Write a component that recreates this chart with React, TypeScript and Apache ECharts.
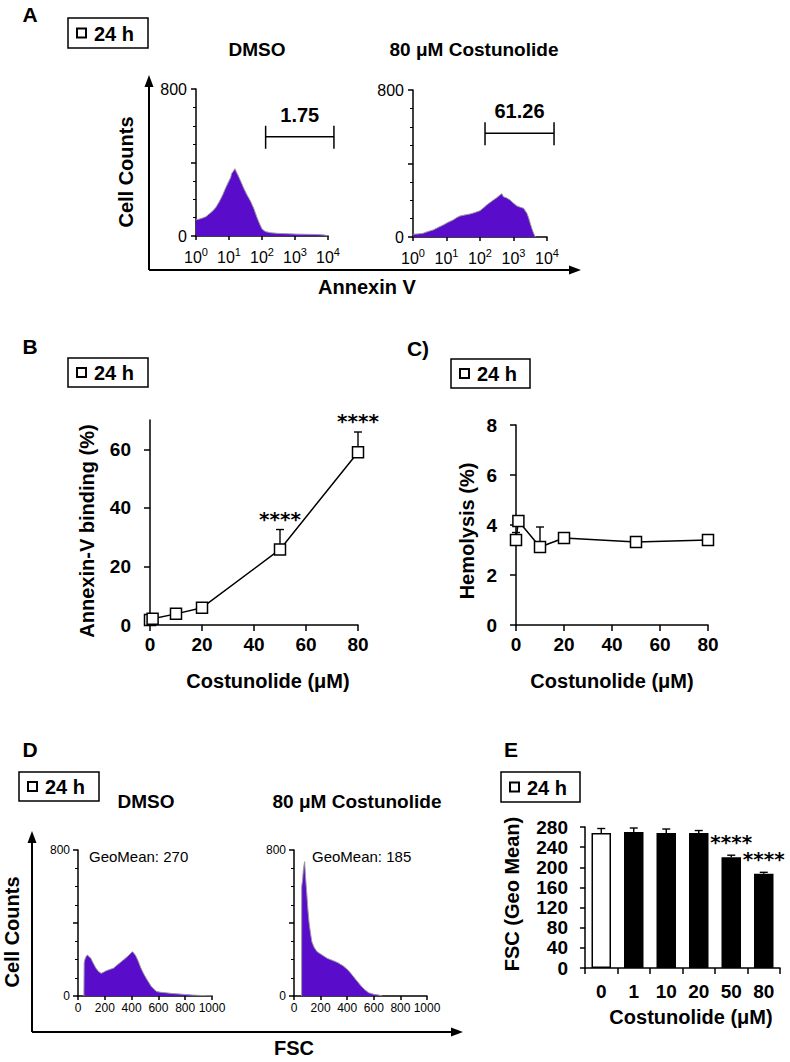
import React, { useEffect, useRef } from 'react';
import * as echarts from 'echarts';

const FONT = '"Liberation Sans", Arial, Helvetica, sans-serif';
const STAR_FONT = '"DejaVu Sans", sans-serif';
const PURPLE = '#5a0ccb';
const EDGE = '#9a9a9a';
const timeLabel = '24 h';

// ---------- Panel A: Annexin V histograms (x = log10 decades) ----------
const decadeBase = '10';
const decadeExponents = ['0', '1', '2', '3', '4'];
const annexDmso: [number, number][] = [
  [0, 88], [0.1, 92], [0.2, 98], [0.3, 105], [0.4, 120], [0.5, 135], [0.6, 155], [0.7, 185],
  [0.8, 220], [0.9, 262], [1.0, 300], [1.05, 318], [1.08, 340], [1.13, 352], [1.18, 366], [1.22, 350],
  [1.28, 328], [1.35, 300], [1.45, 258], [1.55, 222], [1.65, 190], [1.75, 150], [1.85, 100], [1.93, 65],
  [2.0, 38], [2.1, 24], [2.25, 18], [2.5, 14], [2.8, 12], [3.1, 10], [3.4, 9], [3.7, 8], [3.9, 5], [4.0, 0],
];
const annexCost: [number, number][] = [
  [0, 15], [0.15, 17], [0.3, 20], [0.45, 30], [0.6, 38], [0.75, 52], [0.9, 65], [1.05, 80], [1.2, 93],
  [1.3, 105], [1.4, 114], [1.55, 120], [1.7, 125], [1.85, 133], [2.0, 143], [2.1, 158], [2.2, 174],
  [2.3, 188], [2.4, 201], [2.5, 214], [2.6, 229], [2.65, 236], [2.7, 219], [2.8, 212], [2.9, 201],
  [3.0, 184], [3.1, 169], [3.2, 162], [3.3, 156], [3.4, 129], [3.45, 105], [3.5, 74], [3.55, 45],
  [3.6, 20], [3.65, 0],
];
const gateDmso = [2.11, 4.18, 540];
const gateCost = [2.15, 4.21, 564];
const gateDmsoLabel = '1.75';
const gateCostLabel = '61.26';

// ---------- Panel B: Annexin-V binding ----------
const conc = [0, 1, 10, 20, 50, 80];
const annexinPct = [1.7, 2.1, 3.8, 5.9, 25.8, 59.0];
const annexinErr = [0.5, 0.5, 0.8, 1.2, 6.8, 6.9];
const annexinSig = [false, false, false, false, true, true];

// ---------- Panel C: Hemolysis ----------
const hemolysis = [3.4, 4.16, 3.12, 3.48, 3.32, 3.4];
const hemolysisErr = [0.3, 0.1, 0.8, 0.1, 0.1, 0.1];

// ---------- Panel D: FSC histograms ----------
const fscDmso: [number, number][] = [
  [44, 0], [46, 180], [50, 197], [60, 215], [70, 225], [80, 218], [96, 206], [115, 178], [134, 152],
  [155, 133], [173, 124], [190, 130], [212, 139], [240, 146], [264, 152], [290, 168], [315, 183],
  [340, 198], [367, 215], [385, 228], [406, 243], [420, 232], [432, 219], [450, 190], [470, 152],
  [490, 122], [509, 97], [530, 72], [548, 51], [570, 35], [587, 24], [620, 20], [651, 18], [700, 14],
  [755, 11], [800, 8], [858, 5], [910, 3], [961, 2], [1000, 0],
];
const fscCost: [number, number][] = [
  [57, 0], [58, 600], [65, 640], [70, 690], [76, 720], [80, 736], [86, 660], [96, 562], [105, 470],
  [114, 398], [125, 340], [134, 298], [150, 268], [173, 243], [200, 230], [225, 218], [251, 206],
  [290, 195], [328, 183], [370, 165], [406, 142], [430, 122], [457, 97], [485, 72], [509, 51],
  [535, 33], [561, 18], [600, 9], [638, 5], [664, 0],
];
const geoMeanDmso = 'GeoMean: 270';
const geoMeanCost = 'GeoMean: 185';

// ---------- Panel E: FSC geo mean bars ----------
const fscCats = ['0', '1', '10', '20', '50', '80'];
const fscGeoMean = [268, 270, 268, 268, 220, 187];
const fscErr = [9, 8, 8, 5, 4, 3];
const fscSig = [false, false, false, false, true, true];
const sigText = '****';

const BLACK = '#000';
const axisLine = { show: true, onZero: false, lineStyle: { color: BLACK, width: 1.5 } };
const tick = (len: number) => ({ show: true, length: len, lineStyle: { color: BLACK, width: 1.5 } });

function boldLabel(size: number, margin: number, extra: any = {}) {
  return { color: BLACK, fontFamily: FONT, fontWeight: 'bold', fontSize: size, margin, showMaxLabel: true, showMinLabel: true, hideOverlap: false, ...extra };
}
function plainLabel(size: number, margin: number, extra: any = {}) {
  return { color: BLACK, fontFamily: FONT, fontWeight: 'normal', fontSize: size, margin, showMaxLabel: true, showMinLabel: true, hideOverlap: false, ...extra };
}

function txt(text: string, x: number, y: number, size: number, opts: any = {}) {
  const align = opts.align || 'center';
  return {
    type: 'text', x, y, rotation: opts.rot || 0, z: 10,
    style: {
      text, fontSize: size, fontWeight: opts.weight || 'bold', fontFamily: opts.family || FONT, fill: BLACK,
      textAlign: align, textVerticalAlign: 'middle', align, verticalAlign: 'middle',
    },
  };
}

function timeBox(x: number, y: number, w: number, h: number) {
  return {
    type: 'group', x, y, z: 10,
    children: [
      { type: 'rect', shape: { x: 0, y: 0, width: w, height: h }, style: { fill: '#fff', stroke: BLACK, lineWidth: 1.5 } },
      { type: 'rect', shape: { x: 9, y: h / 2 - 4.5, width: 9, height: 9 }, style: { fill: '#fff', stroke: BLACK, lineWidth: 2 } },
      txt(timeLabel, 26, h / 2 + 0.5, 20, { align: 'left' }),
    ],
  };
}

function arrowAxes(ox: number, oy: number, topY: number, rightX: number) {
  const st = { stroke: BLACK, lineWidth: 2 };
  return [
    { type: 'line', shape: { x1: ox, y1: oy, x2: ox, y2: topY + 8 }, style: st },
    { type: 'line', shape: { x1: ox, y1: oy, x2: rightX - 8, y2: oy }, style: st },
    { type: 'polygon', shape: { points: [[ox, topY], [ox - 4.5, topY + 12], [ox + 4.5, topY + 12]] }, style: { fill: BLACK } },
    { type: 'polygon', shape: { points: [[rightX, oy], [rightX - 12, oy - 4.5], [rightX - 12, oy + 4.5]] }, style: { fill: BLACK } },
  ];
}

function histSeries(idx: number, data: [number, number][]) {
  return {
    type: 'line', xAxisIndex: idx, yAxisIndex: idx, data, symbol: 'none', silent: true,
    lineStyle: { color: EDGE, width: 1 }, areaStyle: { color: PURPLE, opacity: 1 }, z: 2,
  };
}

function textEl(text: string, x: number, y: number, size: number, weight: string, family: string, va: string) {
  return {
    type: 'text', x, y,
    style: { text, fontSize: size, fontWeight: weight, fontFamily: family, fill: BLACK, align: 'center', verticalAlign: va, textAlign: 'center', textVerticalAlign: va },
  };
}

function gateSeries(idx: number, g: number[], label: string) {
  return {
    type: 'custom', xAxisIndex: idx, yAxisIndex: idx, clip: false, silent: true, z: 5,
    data: [g],
    renderItem: (_p: any, api: any) => {
      const a = api.coord([api.value(0), api.value(2)]);
      const b = api.coord([api.value(1), api.value(2)]);
      const st = { stroke: BLACK, lineWidth: 1.5 };
      return {
        type: 'group',
        children: [
          { type: 'line', shape: { x1: a[0], y1: a[1], x2: b[0], y2: b[1] }, style: st },
          { type: 'line', shape: { x1: a[0], y1: a[1] - 11, x2: a[0], y2: a[1] + 12 }, style: st },
          { type: 'line', shape: { x1: b[0], y1: b[1] - 11, x2: b[0], y2: b[1] + 12 }, style: st },
          textEl(label, (a[0] + b[0]) / 2, a[1] - 22, 20, 'bold', FONT, 'middle'),
        ],
      };
    },
  };
}

function errorSeries(idx: number, xs: number[], ys: number[], errs: number[], capHalf: number) {
  return {
    type: 'custom', xAxisIndex: idx, yAxisIndex: idx, clip: false, silent: true, z: 3,
    data: xs.map((x, i) => [x, ys[i], errs[i]]),
    renderItem: (_p: any, api: any) => {
      const x = api.value(0), y = api.value(1), e = api.value(2);
      const a = api.coord([x, y]);
      const b = api.coord([x, y + e]);
      const st = { stroke: BLACK, lineWidth: 1.4 };
      return {
        type: 'group',
        children: [
          { type: 'line', shape: { x1: a[0], y1: a[1], x2: b[0], y2: b[1] }, style: st },
          { type: 'line', shape: { x1: b[0] - capHalf, y1: b[1], x2: b[0] + capHalf, y2: b[1] }, style: st },
        ],
      };
    },
  };
}

function starSeries(idx: number, pts: number[][], gap: number) {
  return {
    type: 'custom', xAxisIndex: idx, yAxisIndex: idx, clip: false, silent: true, z: 6,
    data: pts,
    renderItem: (_p: any, api: any) => {
      const p = api.coord([api.value(0), api.value(1)]);
      return textEl(sigText, p[0], p[1] - gap, 20, 'bold', STAR_FONT, 'bottom');
    },
  };
}

function lineSeries(idx: number, xs: number[], ys: number[]) {
  return {
    type: 'line', xAxisIndex: idx, yAxisIndex: idx, data: xs.map((x, i) => [x, ys[i]]),
    symbol: 'rect', symbolSize: 11, z: 4, silent: true,
    lineStyle: { color: BLACK, width: 1.5 },
    itemStyle: { color: '#fff', borderColor: BLACK, borderWidth: 1.5 },
  };
}

export default function App() {
  const ref = useRef<HTMLDivElement>(null);
  useEffect(() => {
    if (!ref.current) return;
    const chart = echarts.init(ref.current, undefined, { renderer: 'svg' });

    const grids = [
      { left: 196, top: 89, width: 132, height: 147 },   // A1
      { left: 413, top: 90, width: 134, height: 147 },   // A2
      { left: 150, top: 420, width: 208, height: 205 },  // B
      { left: 516, top: 425, width: 192, height: 200 },  // C
      { left: 78, top: 850, width: 134, height: 146 },   // D1
      { left: 294, top: 850, width: 133, height: 146 },  // D2
      { left: 585, top: 827, width: 195, height: 141 },  // E
    ];

    const histY = (idx: number, size: number, margin: number) => ({
      type: 'value', gridIndex: idx, min: 0, max: 800, interval: 400,
      axisLine, axisTick: tick(5), splitLine: { show: false },
      minorTick: { show: true, splitNumber: 4, length: 3, lineStyle: { color: BLACK, width: 1 } },
      minorSplitLine: { show: false },
      axisLabel: plainLabel(size, margin, { formatter: (v: number) => (v === 400 ? '' : String(v)) }),
    });

    const decadeAxis = (idx: number) => ({
      type: 'value', gridIndex: idx, min: 0, max: 4, interval: 1, axisLine, axisTick: tick(4), splitLine: { show: false },
      axisLabel: plainLabel(16, 10, {
        formatter: (v: number) => `${decadeBase}{s|${decadeExponents[Math.round(v)]}}`,
        rich: { s: { fontSize: 11, fontFamily: FONT, color: BLACK, padding: [0, 0, 12, 0] } },
      }),
    });

    const fscAxis = (idx: number) => ({
      type: 'value', gridIndex: idx, min: 0, max: 1000, interval: 200, axisLine, axisTick: tick(4), splitLine: { show: false },
      axisLabel: plainLabel(12, 6, { formatter: (v: number) => String(v) }),
    });

    const xAxis: any[] = [
      decadeAxis(0),
      decadeAxis(1),
      { type: 'value', gridIndex: 2, min: 0, max: 80, interval: 20, axisLine, axisTick: tick(6), splitLine: { show: false },
        axisLabel: boldLabel(19, 10) },
      { type: 'value', gridIndex: 3, min: 0, max: 80, interval: 20, axisLine, axisTick: tick(6), splitLine: { show: false },
        axisLabel: boldLabel(19, 10) },
      fscAxis(4),
      fscAxis(5),
      { type: 'category', gridIndex: 6, data: fscCats, axisLine, axisTick: { ...tick(6), alignWithLabel: false }, splitLine: { show: false },
        axisLabel: boldLabel(19, 14, { interval: 0 }) },
    ];

    const yAxis: any[] = [
      histY(0, 16, 9),
      histY(1, 16, 9),
      { type: 'value', gridIndex: 2, min: 0, max: 70, interval: 20, axisLine, splitLine: { show: false },
        axisTick: { ...tick(6), customValues: [0, 20, 40, 60] },
        axisLabel: boldLabel(19, 19, { customValues: [0, 20, 40, 60] }) },
      { type: 'value', gridIndex: 3, min: 0, max: 8, interval: 2, axisLine, axisTick: tick(6), splitLine: { show: false },
        axisLabel: boldLabel(19, 19) },
      histY(4, 12, 8),
      histY(5, 12, 8),
      { type: 'value', gridIndex: 6, min: 0, max: 280, interval: 40, axisLine, axisTick: tick(5), splitLine: { show: false },
        axisLabel: boldLabel(19, 17) },
    ];

    const starsB = conc.map((c, i) => (annexinSig[i] ? [c, annexinPct[i] + annexinErr[i]] : null)).filter(Boolean) as number[][];
    const starsE = fscCats.map((_c, i) => (fscSig[i] ? [i, fscGeoMean[i] + fscErr[i]] : null)).filter(Boolean) as number[][];

    const series: any[] = [
      histSeries(0, annexDmso),
      histSeries(1, annexCost),
      gateSeries(0, gateDmso, gateDmsoLabel),
      gateSeries(1, gateCost, gateCostLabel),
      errorSeries(2, conc, annexinPct, annexinErr, 4),
      lineSeries(2, conc, annexinPct),
      starSeries(2, starsB, 1),
      errorSeries(3, conc, hemolysis, hemolysisErr, 4),
      lineSeries(3, conc, hemolysis),
      histSeries(4, fscDmso),
      histSeries(5, fscCost),
      {
        type: 'bar', xAxisIndex: 6, yAxisIndex: 6, barWidth: '60%', silent: true, z: 2,
        data: fscGeoMean.map((v, i) => ({
          value: v,
          itemStyle: { color: i === 0 ? '#fff' : BLACK, borderColor: BLACK, borderWidth: 1.5 },
        })),
      },
      errorSeries(6, fscCats.map((_c, i) => i), fscGeoMean, fscErr, 4),
      starSeries(6, starsE, 3),
    ];

    const graphic: any[] = [
      // panel letters
      txt('A', 30, 14, 21), txt('B', 30, 346, 21), txt('C)', 418, 348, 21), txt('D', 30, 749, 21), txt('E', 511, 749, 21),
      // time boxes
      timeBox(68, 18, 80, 30), timeBox(68, 358, 80, 29), timeBox(451, 359, 79, 29), timeBox(19, 772, 80, 29), timeBox(501, 772, 79, 30),
      // panel A
      txt('DMSO', 257, 49, 19), txt('80 μM Costunolide', 474, 49, 19),
      ...arrowAxes(149, 270, 75, 581),
      txt('Cell Counts', 126, 172, 20, { rot: Math.PI / 2 }),
      txt('Annexin V', 367, 287, 20),
      // panel B
      txt('Annexin-V binding (%)', 87, 531, 20, { rot: Math.PI / 2 }),
      txt('Costunolide (μM)', 268, 681, 20),
      // panel C
      txt('Hemolysis (%)', 467, 531, 20, { rot: Math.PI / 2 }),
      txt('Costunolide (μM)', 612, 681, 20),
      // panel D
      txt('DMSO', 146, 801, 19), txt('80 μM Costunolide', 357, 801, 19),
      txt(geoMeanDmso, 89, 856, 15, { align: 'left', weight: 'normal' }),
      txt(geoMeanCost, 312, 856, 15, { align: 'left', weight: 'normal' }),
      ...arrowAxes(32, 1032, 831, 463),
      txt('Cell Counts', 12, 932, 20, { rot: Math.PI / 2 }),
      txt('FSC', 294, 1048, 20),
      // panel E
      txt('FSC (Geo Mean)', 512, 894, 20, { rot: Math.PI / 2 }),
      txt('Costunolide (μM)', 691, 1017, 20),
    ];

    chart.setOption({
      animation: false,
      backgroundColor: '#fff',
      grid: grids.map((g) => ({ ...g, containLabel: false })),
      xAxis,
      yAxis,
      series,
      graphic,
    });
    return () => chart.dispose();
  }, []);

  return <div ref={ref} style={{ position: 'fixed', left: 0, top: 0, width: 790, height: 1062, background: '#fff' }} />;
}
